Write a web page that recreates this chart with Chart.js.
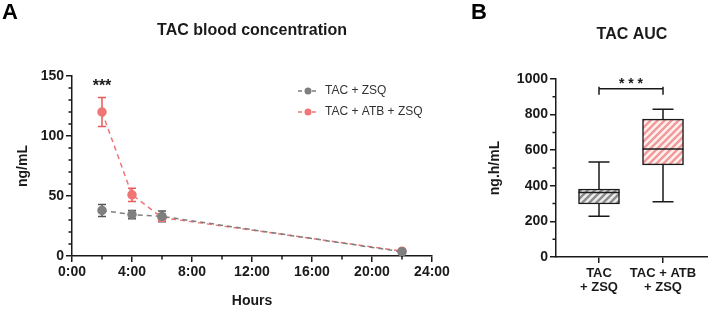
<!DOCTYPE html>
<html>
<head>
<meta charset="utf-8">
<script src="https://cdn.jsdelivr.net/npm/chart.js@4.4.1/dist/chart.umd.min.js"></script>
<style>
    body { margin: 0; background: #fff; }
    #chartA { position: absolute; left: 0; top: 0; }
    #chartB { position: absolute; left: 470px; top: 0; }
</style>
</head>
<body>
<canvas id="chartA" width="470" height="310"></canvas>
<canvas id="chartB" width="238" height="310"></canvas>
<script>
// Panel A: concentración en sangre
const hours = [2, 4, 6, 22];
const zsqMean = [38, 34.5, 33, 3.5];
const zsqErr = [5, 3.5, 4.5, 1.5];
const atbMean = [120, 51, 32, 4];
const atbErr = [12, 5.5, 3, 1.5];
const hourTicks = [0, 4, 8, 12, 16, 20, 24];
const seriesLabels = ['TAC + ZSQ', 'TAC + ATB + ZSQ'];

// Panel B: AUC (boxplot)
const groups = [['TAC', '+ ZSQ'], ['TAC + ATB', '+ ZSQ']];
const boxMin = [229, 311];
const boxQ1 = [298, 518];
const boxMedian = [363, 607];
const boxQ3 = [382, 775];
const boxMax = [534, 830];

const GRAY = '#7f7f7f';
const RED = '#f07575';
const INK = '#1a1a1a';
Chart.defaults.font.family = "'Liberation Sans', Arial, sans-serif";
Chart.defaults.color = INK;

const tickFont = { size: 14, weight: 'bold' };
const axisGrid = { drawOnChartArea: false, color: INK, lineWidth: 1.5, tickLength: 6, offset: false };
const axisBorder = { color: INK, width: 1.5 };

function stripes(bg, fg) {
    const c = document.createElement('canvas');
    c.width = c.height = 7;
    const g = c.getContext('2d');
    g.fillStyle = bg;
    g.fillRect(0, 0, 7, 7);
    g.strokeStyle = fg;
    g.lineWidth = 2.4;
    g.beginPath();
    g.moveTo(-1, 8); g.lineTo(8, -1);
    g.moveTo(-4.5, 4.5); g.lineTo(4.5, -4.5);
    g.moveTo(2.5, 11.5); g.lineTo(11.5, 2.5);
    g.stroke();
    return g.createPattern(c, 'repeat');
}

function minorTicks(ctx, scale, values, len) {
    ctx.save();
    ctx.strokeStyle = INK;
    ctx.lineWidth = 1.5;
    ctx.beginPath();
    values.forEach(v => {
        const p = scale.getPixelForValue(v);
        if (scale.isHorizontal()) {
            ctx.moveTo(p, scale.top); ctx.lineTo(p, scale.top + len);
        } else {
            ctx.moveTo(scale.right, p); ctx.lineTo(scale.right - len, p);
        }
    });
    ctx.stroke();
    ctx.restore();
}

function text(ctx, str, x, y, font, color, align) {
    ctx.save();
    ctx.font = font;
    ctx.fillStyle = color || INK;
    ctx.textAlign = align || 'center';
    ctx.textBaseline = 'middle';
    ctx.fillText(str, x, y);
    ctx.restore();
}

const FONT = "'Liberation Sans', Arial, sans-serif";

// Plugin panel A: barras de error, leyenda, títulos
const panelA = {
    id: 'panelA',
    beforeDatasetsDraw(chart) {
        const { ctx, scales: { x, y } } = chart;
        const sets = [[zsqMean, zsqErr, '#555'], [atbMean, atbErr, '#e85a5a']];
        ctx.save();
        ctx.lineWidth = 1.5;
        sets.forEach(([mean, err, col]) => {
            ctx.strokeStyle = col;
            ctx.beginPath();
            hours.forEach((h, i) => {
                const px = x.getPixelForValue(h);
                const top = y.getPixelForValue(mean[i] + err[i]);
                const bot = y.getPixelForValue(Math.max(0, mean[i] - err[i]));
                ctx.moveTo(px, top); ctx.lineTo(px, bot);
                ctx.moveTo(px - 4, top); ctx.lineTo(px + 4, top);
                ctx.moveTo(px - 4, bot); ctx.lineTo(px + 4, bot);
            });
            ctx.stroke();
        });
        ctx.restore();
    },
    afterDraw(chart) {
        const { ctx, chartArea, scales: { x, y } } = chart;
        minorTicks(ctx, x, [2, 6, 10, 14, 18, 22], 3.5);
        const ym = [];
        for (let v = 10; v < 150; v += 10) if (v % 50) ym.push(v);
        minorTicks(ctx, y, ym, 3.5);

        text(ctx, 'A', 2, 13, 'bold 22px ' + FONT, '#000', 'left');
        text(ctx, 'TAC blood concentration', (chartArea.left + chartArea.right) / 2, 31, 'bold 16px ' + FONT);
        text(ctx, '***', x.getPixelForValue(2), 87, 'bold 16px ' + FONT);

        // leyenda
        const cols = [GRAY, RED];
        seriesLabels.forEach((lab, i) => {
            const ly = 91 + i * 21;
            ctx.save();
            ctx.strokeStyle = cols[i];
            ctx.lineWidth = 1.5;
            ctx.setLineDash([4, 3]);
            ctx.beginPath();
            ctx.moveTo(298, ly); ctx.lineTo(319, ly);
            ctx.stroke();
            ctx.setLineDash([]);
            ctx.fillStyle = cols[i];
            ctx.beginPath();
            ctx.arc(308, ly, 3.5, 0, Math.PI * 2);
            ctx.fill();
            ctx.restore();
            text(ctx, lab, 325, ly, '12px ' + FONT, '#333', 'left');
        });
    }
};

new Chart(document.getElementById('chartA'), {
    type: 'line',
    data: {
        datasets: [
            {
                label: seriesLabels[0],
                data: hours.map((h, i) => ({ x: h, y: zsqMean[i] })),
                borderColor: GRAY,
                backgroundColor: GRAY,
                borderDash: [5, 4],
                borderWidth: 1.5,
                pointRadius: 4,
                tension: 0
            },
            {
                label: seriesLabels[1],
                data: hours.map((h, i) => ({ x: h, y: atbMean[i] })),
                borderColor: RED,
                backgroundColor: RED,
                borderDash: [5, 4],
                borderWidth: 1.5,
                pointRadius: 4,
                tension: 0
            }
        ]
    },
    options: {
        responsive: false,
        animation: false,
        layout: { padding: { top: 76, right: 38, left: 0, bottom: 0 } },
        plugins: { legend: { display: false }, tooltip: { enabled: false } },
        scales: {
            x: {
                type: 'linear',
                min: 0,
                max: 24,
                afterBuildTicks: s => { s.ticks = hourTicks.map(v => ({ value: v })); },
                afterFit: s => { s.height = 54; },
                ticks: { font: tickFont, color: INK, maxRotation: 0, padding: 2, callback: v => v + ':00' },
                grid: axisGrid,
                border: axisBorder,
                title: { display: true, text: 'Hours', font: { size: 14, weight: 'bold' }, color: INK, padding: { top: 0, bottom: 0 } }
            },
            y: {
                min: 0,
                max: 150,
                ticks: { stepSize: 50, font: tickFont, color: INK, padding: 2 },
                afterFit: s => { s.width = 72; },
                grid: axisGrid,
                border: axisBorder,
                title: { display: true, text: 'ng/mL', font: { size: 14, weight: 'bold' }, color: INK, padding: { top: 15, bottom: 0 } }
            }
        }
    },
    plugins: [panelA]
});

// Plugin panel B: bigotes, mediana, corchete de significancia
const panelB = {
    id: 'panelB',
    afterDatasetsDraw(chart) {
        const { ctx, scales: { x, y } } = chart;
        ctx.save();
        ctx.strokeStyle = INK;
        ctx.lineWidth = 1.5;
        ctx.beginPath();
        groups.forEach((g, i) => {
            const px = x.getPixelForValue(i);
            const yMax = y.getPixelForValue(boxMax[i]);
            const yMin = y.getPixelForValue(boxMin[i]);
            const yQ1 = y.getPixelForValue(boxQ1[i]);
            const yQ3 = y.getPixelForValue(boxQ3[i]);
            const yMed = y.getPixelForValue(boxMedian[i]);
            ctx.moveTo(px, yMax); ctx.lineTo(px, yQ3);
            ctx.moveTo(px, yQ1); ctx.lineTo(px, yMin);
            ctx.moveTo(px - 10.5, yMax); ctx.lineTo(px + 10.5, yMax);
            ctx.moveTo(px - 10.5, yMin); ctx.lineTo(px + 10.5, yMin);
            ctx.moveTo(px - 20.5, yMed); ctx.lineTo(px + 20.5, yMed);
        });
        // corchete
        const x0 = x.getPixelForValue(0), x1 = x.getPixelForValue(1);
        const yb = y.getPixelForValue(945);
        ctx.moveTo(x0, yb - 2); ctx.lineTo(x0, yb + 6);
        ctx.moveTo(x1, yb - 2); ctx.lineTo(x1, yb + 6);
        ctx.moveTo(x0, yb); ctx.lineTo(x1, yb);
        ctx.stroke();
        ctx.restore();
    },
    afterDraw(chart) {
        const { ctx, scales: { x, y } } = chart;
        minorTicks(ctx, y, [100, 300, 500, 700, 900], 3.5);
        text(ctx, 'B', 1, 13, 'bold 22px ' + FONT, '#000', 'left');
        text(ctx, 'TAC AUC', 162, 35, 'bold 16px ' + FONT);
        text(ctx, '* * *', (x.getPixelForValue(0) + x.getPixelForValue(1)) / 2, 84, 'bold 14px ' + FONT);
    }
};

new Chart(document.getElementById('chartB'), {
    type: 'bar',
    data: {
        datasets: [{
            data: groups.map((g, i) => ({ x: i, y: [boxQ1[i], boxQ3[i]] })),
            backgroundColor: [stripes('#ececec', '#8c8c8c'), stripes('#fff0f0', '#f29a9a')],
            borderColor: INK,
            borderWidth: 1.5,
            borderSkipped: false,
            barThickness: 41
        }]
    },
    options: {
        responsive: false,
        animation: false,
        layout: { padding: { top: 79, right: 0, left: 0, bottom: 0 } },
        plugins: { legend: { display: false }, tooltip: { enabled: false } },
        scales: {
            x: {
                type: 'linear',
                offset: false,
                min: -0.672,
                max: 1.703,
                afterBuildTicks: s => { s.ticks = [{ value: 0 }, { value: 1 }]; },
                afterFit: s => { s.height = 53; },
                ticks: { font: { size: 13, weight: 'bold', lineHeight: 1.1 }, color: INK, maxRotation: 0, padding: 3, callback: v => groups[v] },
                grid: axisGrid,
                border: axisBorder
            },
            y: {
                min: 0,
                max: 1000,
                ticks: { stepSize: 200, font: tickFont, color: INK, padding: 2, callback: v => String(v) },
                afterFit: s => { s.width = 86; },
                grid: axisGrid,
                border: axisBorder,
                title: { display: true, text: 'ng.h/mL', font: { size: 14, weight: 'bold' }, color: INK, padding: { top: 17, bottom: 0 } }
            }
        }
    },
    plugins: [panelB]
});
</script>
</body>
</html>
